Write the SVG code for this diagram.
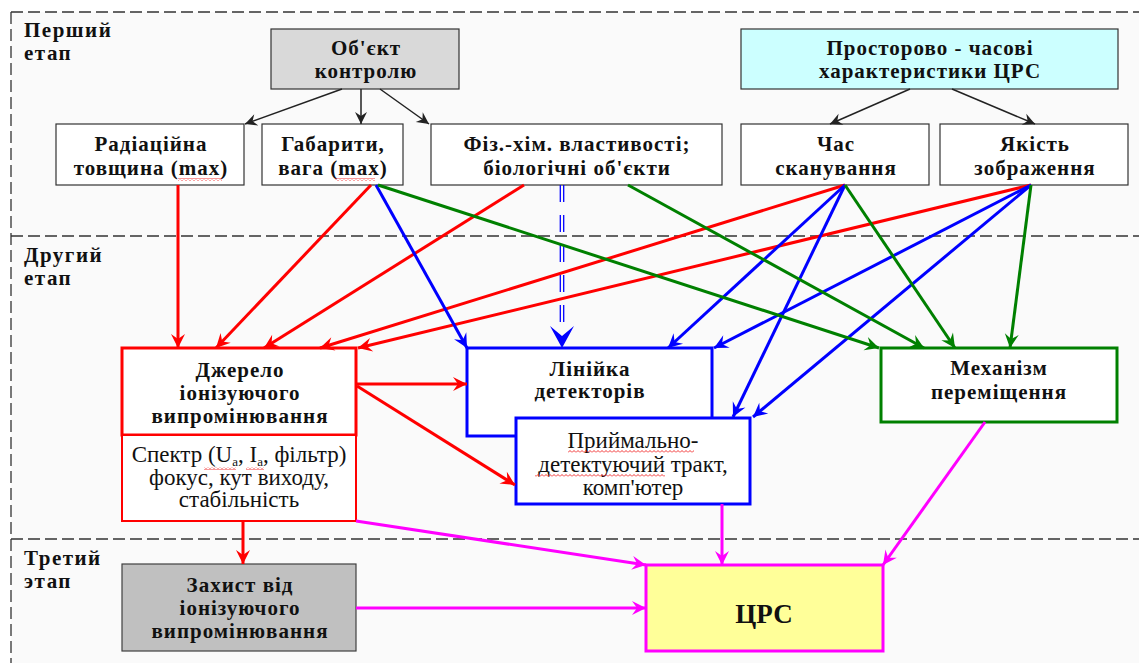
<svg xmlns="http://www.w3.org/2000/svg" width="1139" height="663" viewBox="0 0 1139 663">
<style>
.b{font-family:'Liberation Serif','DejaVu Serif',serif;font-size:21px;font-weight:bold;letter-spacing:1px;text-anchor:middle;fill:#111}
.r{font-family:'Liberation Serif','DejaVu Serif',serif;font-size:23px;font-weight:normal;text-anchor:middle;fill:#111}
.s{font-family:'Liberation Serif','DejaVu Serif',serif;font-size:21px;font-weight:bold;letter-spacing:1.5px;fill:#111}
.sep{stroke:#333;stroke-width:1.3;stroke-dasharray:12 5;fill:none}
.box{fill:#fff;stroke:#333;stroke-width:1.2}
.k{stroke:#222;stroke-width:1.5;fill:none;marker-end:url(#mk)}
.cr{stroke:#f00;stroke-width:3;fill:none;marker-end:url(#mr)}
.cb{stroke:#00f;stroke-width:3;fill:none;marker-end:url(#mb)}
.cg{stroke:#008000;stroke-width:3;fill:none;marker-end:url(#mg)}
.cm{stroke:#f0f;stroke-width:3;fill:none;marker-end:url(#mm)}
.sq{fill:url(#wave)}
</style>
<defs>
<marker id="mk" markerUnits="userSpaceOnUse" viewBox="-13 -7 14 14" refX="0" refY="0" markerWidth="14" markerHeight="14" orient="auto"><path d="M-12,-6 L0,0 L-12,6 L-8,0 Z" fill="#222"/></marker>
<marker id="mr" markerUnits="userSpaceOnUse" viewBox="-15 -8 16 16" refX="0" refY="0" markerWidth="16" markerHeight="16" orient="auto"><path d="M-14,-7 L0,0 L-14,7 L-9,0 Z" fill="#f00"/></marker>
<marker id="mb" markerUnits="userSpaceOnUse" viewBox="-15 -8 16 16" refX="0" refY="0" markerWidth="16" markerHeight="16" orient="auto"><path d="M-14,-7 L0,0 L-14,7 L-9,0 Z" fill="#00f"/></marker>
<marker id="mg" markerUnits="userSpaceOnUse" viewBox="-15 -8 16 16" refX="0" refY="0" markerWidth="16" markerHeight="16" orient="auto"><path d="M-14,-7 L0,0 L-14,7 L-9,0 Z" fill="#008000"/></marker>
<marker id="mm" markerUnits="userSpaceOnUse" viewBox="-15 -8 16 16" refX="0" refY="0" markerWidth="16" markerHeight="16" orient="auto"><path d="M-14,-7 L0,0 L-14,7 L-9,0 Z" fill="#f0f"/></marker>
<pattern id="wave" patternUnits="userSpaceOnUse" width="4" height="3"><path d="M0,2.5 L2,0.5 L4,2.5" stroke="#e00" stroke-width="0.8" fill="none"/></pattern>
</defs>

<rect x="0" y="0" width="1139" height="663" fill="#fff"/>
<rect x="11" y="12" width="1140" height="660" fill="#fafafa"/>
<g id="frame">
<path class="sep" d="M11,12 H1139"/>
<path class="sep" d="M11,12 V663"/>
<path class="sep" d="M11,236 H1139"/>
<path class="sep" d="M11,539 H1139"/>
<text class="s" x="24" y="37">Перший</text>
<text class="s" x="24" y="60">етап</text>
<text class="s" x="24" y="262">Другий</text>
<text class="s" x="24" y="285">етап</text>
<text class="s" x="24" y="565">Третий</text>
<text class="s" x="24" y="588">этап</text>
</g>

<g id="obiekt">
<rect x="271" y="29" width="188" height="60" fill="#d9d9d9" stroke="#333" stroke-width="1.2"/>
<text class="b" x="366" y="55">Об'єкт</text>
<text class="b" x="366" y="78">контролю</text>
</g>
<g id="prostorovo">
<rect x="741" y="29" width="377" height="60" fill="#ccffff" stroke="#333" stroke-width="1.2"/>
<text class="b" x="930" y="55">Просторово - часові</text>
<text class="b" x="930" y="78">характеристики ЦРС</text>
</g>
<g id="radiatsiyna">
<rect class="box" x="56" y="124" width="188" height="61"/>
<text class="b" x="151" y="151">Радіаційна</text>
<text class="b" x="151" y="175">товщина (max)</text>
<rect class="sq" x="178" y="178" width="44" height="3"/>
</g>
<g id="gabaryty">
<rect class="box" x="262" y="124" width="141" height="61"/>
<text class="b" x="333" y="151">Габарити,</text>
<text class="b" x="333" y="175">вага (max)</text>
<rect class="sq" x="335" y="178" width="40" height="3"/>
</g>
<g id="fizkhim">
<rect class="box" x="431" y="124" width="291" height="61"/>
<text class="b" x="577" y="151">Фіз.-хім. властивості;</text>
<text class="b" x="577" y="175">біологічні об'єкти</text>
</g>
<g id="chas">
<rect class="box" x="741" y="124" width="188" height="61"/>
<text class="b" x="836" y="151">Час</text>
<text class="b" x="836" y="175">сканування</text>
</g>
<g id="yakist">
<rect class="box" x="940" y="124" width="188" height="61"/>
<text class="b" x="1035" y="151">Якість</text>
<text class="b" x="1035" y="175">зображення</text>
</g>

<g id="dzherelo">
<rect x="122" y="348" width="234" height="87" fill="#fff" stroke="#f00" stroke-width="3"/>
<text class="b" x="240" y="377">Джерело</text>
<text class="b" x="240" y="400">іонізуючого</text>
<text class="b" x="240" y="423">випромінювання</text>
</g>
<g id="spektr">
<rect x="122" y="435" width="234" height="86" fill="#fff" stroke="#f00" stroke-width="2"/>
<text class="r" x="239" y="462">Спектр (U<tspan font-size="13" dy="4">а</tspan><tspan dy="-4">, I</tspan><tspan font-size="13" dy="4">а</tspan><tspan dy="-4">, фільтр)</tspan></text>
<text class="r" x="239" y="485">фокус, кут виходу,</text>
<text class="r" x="239" y="507">стабільність</text>
<rect class="sq" x="204" y="467" width="32" height="3"/>
<rect class="sq" x="246" y="467" width="18" height="3"/>
</g>
<g id="liniyka">
<rect x="467" y="348" width="245" height="88" fill="#fff" stroke="#00f" stroke-width="3"/>
<text class="b" x="590" y="376">Лінійка</text>
<text class="b" x="590" y="398">детекторів</text>
</g>
<g id="pryimalno">
<rect x="516" y="418" width="234" height="86" fill="#fff" stroke="#00f" stroke-width="3"/>
<text class="r" x="633" y="448">Приймально-</text>
<text class="r" x="633" y="472">детектуючий тракт,</text>
<text class="r" x="633" y="495">комп'ютер</text>
<rect class="sq" x="568" y="450" width="126" height="3"/>
<rect class="sq" x="535" y="474" width="130" height="3"/>
</g>
<g id="mekhanizm">
<rect x="881" y="348" width="236" height="74" fill="#fff" stroke="#008000" stroke-width="3"/>
<text class="b" x="999" y="375">Механізм</text>
<text class="b" x="999" y="399">переміщення</text>
</g>
<g id="zakhyst">
<rect x="122" y="564" width="234" height="87" fill="#c0c0c0" stroke="#404040" stroke-width="1.2"/>
<text class="b" x="240" y="592">Захист від</text>
<text class="b" x="240" y="615">іонізуючого</text>
<text class="b" x="240" y="638">випромінювання</text>
</g>
<g id="tsrs">
<rect x="646" y="565" width="237" height="86" fill="#ffff99" stroke="#f0f" stroke-width="3"/>
<text class="b" x="764" y="623" style="font-size:27px;letter-spacing:0">ЦРС</text>
</g>

<g id="connectors">
<path class="k" d="M342,89 L245,124"/>
<path class="k" d="M361,89 L361,124"/>
<path class="k" d="M380,89 L429,124"/>
<path class="k" d="M910,89 L830,124"/>
<path class="k" d="M952,89 L1035,124"/>

<path class="cr" d="M178,185 L178,348"/>
<path class="cr" d="M371,185 L216,348"/>
<path class="cr" d="M524,185 L264,348"/>
<path class="cr" d="M845,185 L320,348"/>
<path class="cr" d="M1031,185 L358,348"/>
<path class="cr" d="M356,384 L467,384"/>
<path class="cr" d="M357,386 L515,485"/>
<path class="cr" d="M243,521 L243,564"/>

<path class="cb" d="M376,185 L467,348"/>
<path class="cb" d="M845,185 L668,348"/>
<path class="cb" d="M845,185 L733,417"/>
<path class="cb" d="M1031,185 L714,348"/>
<path class="cb" d="M1031,185 L753,417"/>
<g stroke="#00f" stroke-width="1.3" stroke-dasharray="17 13" fill="none">
<path d="M560.3,185 V336"/>
<path d="M563.7,185 V336"/>
</g>
<path d="M550,326 L562,336 L574,326 L562,348 Z" fill="#00f"/>

<path class="cg" d="M378,185 L879,348"/>
<path class="cg" d="M628,185 L924,348"/>
<path class="cg" d="M845,185 L955,348"/>
<path class="cg" d="M1031,185 L1010,348"/>

<path class="cm" d="M356,521 L646,565"/>
<path class="cm" d="M356,608 L646,608"/>
<path class="cm" d="M722,504 L722,565"/>
<path class="cm" d="M985,422 L883,565"/>
</g>
</svg>
